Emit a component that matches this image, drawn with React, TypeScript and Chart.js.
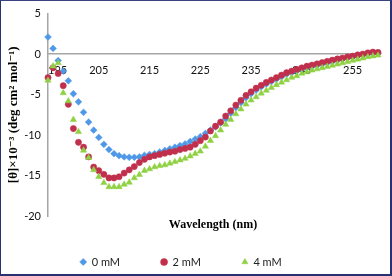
import React, { useEffect, useRef } from 'react';
import { Chart, registerables } from 'chart.js';

Chart.register(...registerables);

const wavelengths = [
  195, 196, 197, 198, 199, 200, 201, 202, 203, 204,
  205, 206, 207, 208, 209, 210, 211, 212, 213, 214,
  215, 216, 217, 218, 219, 220, 221, 222, 223, 224,
  225, 226, 227, 228, 229, 230, 231, 232, 233, 234,
  235, 236, 237, 238, 239, 240, 241, 242, 243, 244,
  245, 246, 247, 248, 249, 250, 251, 252, 253, 254,
  255, 256, 257, 258, 259, 260,
];

const tickLabels = ['195', '205', '215', '225', '235', '245', '255'];

const series0mM = [
  2.1, 0.7, -0.8, -2.1, -3.3, -4.9, -5.9, -7.2, -8.4, -9.4,
  -10.3, -11.15, -11.8, -12.3, -12.55, -12.7, -12.75, -12.75, -12.7, -12.5,
  -12.4, -12.3, -12.1, -11.9, -11.7, -11.5, -11.3, -11.1, -10.8, -10.5,
  -10.2, -9.8, -9.4, -9.0, -8.5, -8.0, -7.3, -6.6, -6.0, -5.4,
  -4.9, -4.45, -4.05, -3.7, -3.4, -3.1, -2.8, -2.5, -2.3, -2.1,
  -1.9, -1.7, -1.55, -1.4, -1.25, -1.1, -0.95, -0.8, -0.65, -0.5,
  -0.4, -0.25, -0.15, 0.0, 0.05, 0.1,
];

const series2mM = [
  -2.9, -1.7, -2.4, -3.9, -6.2, -9.2, -10.9, -11.5, -12.7, -13.95,
  -14.4, -14.85, -15.3, -15.3, -15.15, -14.7, -14.3, -13.9, -13.4, -13.0,
  -12.7, -12.55, -12.4, -12.25, -12.1, -12.0, -11.8, -11.65, -11.5, -11.15,
  -10.7, -10.25, -9.5, -8.9, -8.4, -7.65, -7.0, -6.3, -5.7, -5.1,
  -4.65, -4.2, -3.85, -3.5, -3.2, -2.9, -2.6, -2.3, -2.1, -1.9,
  -1.7, -1.5, -1.35, -1.2, -1.05, -0.9, -0.75, -0.6, -0.5, -0.35,
  -0.25, -0.1, 0.0, 0.15, 0.25, 0.2,
];

const series4mM = [
  -3.25, -1.5, -1.1, -4.8, -5.8, -8.1, -9.6, -11.9, -12.8, -14.3,
  -15.15, -15.9, -16.4, -16.4, -16.4, -16.1, -15.85, -15.3, -14.9, -14.4,
  -14.2, -13.95, -13.8, -13.7, -13.5, -13.3, -13.1, -12.9, -12.6, -12.3,
  -12.0, -11.4, -10.7, -10.1, -9.4, -8.7, -8.1, -7.4, -6.8, -6.2,
  -5.7, -5.3, -4.85, -4.5, -4.15, -3.8, -3.5, -3.2, -2.9, -2.7,
  -2.4, -2.2, -2.0, -1.85, -1.7, -1.55, -1.4, -1.25, -1.1, -0.95,
  -0.8, -0.65, -0.5, -0.35, -0.25, -0.15,
];

const seriesNames = ['0 mM', '2 mM', '4 mM'];
const yMin = -20;
const yMax = 5;
const yStep = 5;

const W = 392;
const H = 276;

const tickFont = { family: 'Lato, "Open Sans", sans-serif', size: 11 };
const serifBold = { family: '"Liberation Serif", "DejaVu Serif", serif', size: 13, weight: 'bold' as const };

const legendPlacer = {
  id: 'legendPlacer',
  afterLayout(chart: any) {
    const lg = chart.legend;
    if (!lg) return;
    const pad = lg.options.labels.padding;
    const itemH = 11;
    lg.top = 262 - pad - itemH / 2;
    lg.bottom = H;
    lg.left -= 8;
    lg.right -= 8;
  },
};

export default function App() {
  const ref = useRef<HTMLCanvasElement | null>(null);

  useEffect(() => {
    if (!ref.current) return;
    const chart = new Chart(ref.current, {
      type: 'line',
      data: {
        labels: wavelengths.map(String),
        datasets: [
          {
            label: seriesNames[0],
            data: series0mM,
            showLine: false,
            pointStyle: 'rectRot',
            pointRadius: 3.4,
            pointBackgroundColor: '#4f98e8',
            pointBorderColor: '#4f98e8',
            pointBorderWidth: 0.5,
            backgroundColor: '#4f98e8',
            borderColor: '#4f98e8',
            order: 3,
          },
          {
            label: seriesNames[1],
            data: series2mM,
            showLine: false,
            pointStyle: 'circle',
            pointRadius: 3.1,
            pointBackgroundColor: '#c0304d',
            pointBorderColor: '#c0304d',
            pointBorderWidth: 0.5,
            backgroundColor: '#c0304d',
            borderColor: '#c0304d',
            order: 2,
          },
          {
            label: seriesNames[2],
            data: series4mM,
            showLine: false,
            pointStyle: 'triangle',
            pointRadius: 3.6,
            pointBackgroundColor: '#8fd142',
            pointBorderColor: '#8fd142',
            pointBorderWidth: 0.5,
            backgroundColor: '#8fd142',
            borderColor: '#8fd142',
            order: 1,
          },
        ],
      },
      options: {
        responsive: false,
        animation: false,
        events: [],
        layout: { padding: { left: 0, right: 14, top: 13, bottom: 19.6 } },
        plugins: {
          legend: {
            position: 'bottom',
            maxHeight: 24,
            labels: {
              usePointStyle: true,
              boxWidth: 6,
              boxHeight: 5,
              padding: 41,
              font: tickFont,
              color: '#222',
              sort: (a: any, b: any) => a.datasetIndex - b.datasetIndex,
            },
          },
          title: {
            display: true,
            text: 'Wavelength (nm)',
            position: 'bottom',
            fullSize: false,
            weight: 500,
            color: '#000',
            font: { ...serifBold, size: 12 },
            padding: { top: 2, bottom: 0 },
          },
          tooltip: { enabled: false },
        },
        scales: {
          x: {
            type: 'category',
            position: { y: 0 } as any,
            offset: false,
            grid: { display: true, color: 'rgba(0,0,0,0)', drawTicks: false },
            border: { display: true, color: '#a6a6a6', width: 1.5 },
            ticks: {
              autoSkip: false,
              maxRotation: 0,
              minRotation: 0,
              align: 'inner',
              padding: 10,
              font: tickFont,
              color: '#111',
              callback: (_v: any, i: number) => {
                const s = String(wavelengths[i]);
                return tickLabels.includes(s) ? s : '';
              },
            },
          },
          y: {
            type: 'linear',
            min: yMin,
            max: yMax,
            grid: { display: true, color: 'rgba(0,0,0,0)', drawTicks: false },
            border: { display: true, color: '#a6a6a6', width: 1.5 },
            ticks: { stepSize: yStep, padding: 7, font: tickFont, color: '#111' },
            title: {
              display: true,
              text: '[θ]×10⁻³ (deg cm² mol⁻¹)',
              color: '#000',
              font: serifBold,
              padding: { top: 6, bottom: 0 },
            },
            afterFit: (s: any) => {
              s.width = 48;
            },
          },
        },
      },
      plugins: [legendPlacer],
    });
    return () => chart.destroy();
  }, []);

  return (
    <div style={{ position: 'absolute', left: 0, top: 0, width: W, height: H, background: '#fff' }}>
      <canvas ref={ref} width={W} height={H} style={{ display: 'block', width: W, height: H }} />
      <div
        style={{
          position: 'absolute',
          left: 0,
          top: 0,
          width: W,
          height: H,
          boxSizing: 'border-box',
          borderLeft: '1px solid #283272',
          borderTop: '1px solid #3a4380',
          borderRight: '2px solid #283272',
          borderBottom: '2px solid #283272',
          pointerEvents: 'none',
        }}
      />
    </div>
  );
}
